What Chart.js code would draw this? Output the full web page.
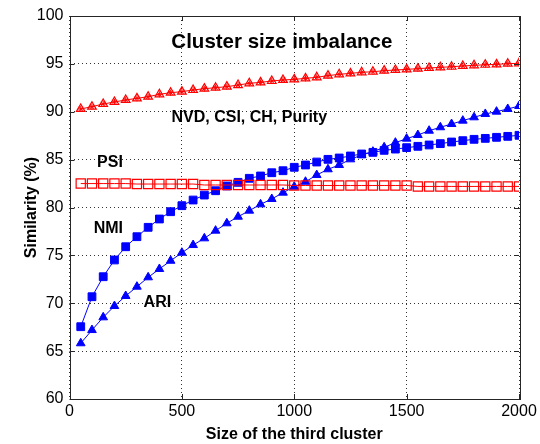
<!DOCTYPE html>
<html>
<head>
<meta charset="utf-8">
<script src="https://cdn.jsdelivr.net/npm/chart.js@4"></script>
<style>
html,body{margin:0;padding:0;background:#fff}
</style>
</head>
<body>
<canvas id="myChart" width="540" height="444"></canvas>
<script>
var sizes = [50,100,150,200,250,300,350,400,450,500,550,600,650,700,750,800,850,900,950,1000,
             1050,1100,1150,1200,1250,1300,1350,1400,1450,1500,1550,1600,1650,1700,1750,1800,1850,1900,1950,2000];

// NVD, CSI, CH, Purity (all the same curve)
var nvd = [90.29,90.53,90.81,91.02,91.23,91.40,91.57,91.82,91.99,92.10,92.27,92.41,92.51,92.62,92.79,92.97,93.07,93.21,93.32,93.38,
           93.49,93.60,93.77,93.91,94.01,94.12,94.18,94.29,94.36,94.43,94.50,94.57,94.64,94.70,94.78,94.85,94.91,94.95,95.02,95.06];
var psi = [82.5,82.5,82.5,82.5,82.5,82.45,82.45,82.45,82.45,82.45,82.45,82.35,82.35,82.35,82.35,82.35,82.35,82.35,82.35,82.3,
           82.3,82.3,82.3,82.3,82.3,82.3,82.3,82.3,82.3,82.3,82.2,82.2,82.2,82.2,82.2,82.2,82.2,82.2,82.2,82.2];
var nmi = [67.55,70.68,72.77,74.52,75.90,76.95,77.93,78.80,79.56,80.19,80.78,81.30,81.75,82.25,82.63,83.05,83.29,83.63,83.84,84.20,
           84.44,84.75,85.03,85.17,85.38,85.59,85.76,85.97,86.10,86.25,86.39,86.53,86.67,86.84,86.98,87.12,87.22,87.33,87.43,87.54];
var ari = [65.82,67.20,68.53,69.71,70.76,71.73,72.71,73.58,74.44,75.28,76.08,76.78,77.58,78.35,79.04,79.67,80.33,80.89,81.55,82.17,
           82.69,83.39,83.99,84.44,85.03,85.48,85.83,86.29,86.77,87.19,87.57,88.02,88.38,88.72,89.07,89.42,89.77,90.01,90.29,90.60];

var xTicks = [0,500,1000,1500,2000];
var yTicks = [60,65,70,75,80,85,90,95,100];

var FONT = '"Liberation Sans", Arial, sans-serif';

function pts(vals){
  return sizes.map(function(x, i){ return {x: x, y: vals[i]}; });
}

// text written inside the axes
var labels = [
  {text: 'Cluster size imbalance', x: 945, y: 97.3, size: 20.5},
  {text: 'NVD, CSI, CH, Purity', x: 800, y: 89.35, size: 16},
  {text: 'PSI', x: 180, y: 84.65, size: 16},
  {text: 'NMI', x: 173, y: 77.75, size: 16},
  {text: 'ARI', x: 391, y: 70.05, size: 16}
];

var boxPlugin = {
  id: 'box',
  afterDraw: function(chart){
    var c = chart.ctx, a = chart.chartArea;
    var xs = chart.scales.x, ys = chart.scales.y;
    c.save();
    c.strokeStyle = '#262626';
    c.lineWidth = 1;
    c.strokeRect(Math.round(a.left) + 0.5, Math.round(a.top) + 0.5,
                 Math.round(a.right - a.left), Math.round(a.bottom - a.top));
    c.beginPath();
    xTicks.forEach(function(t){
      var px = Math.round(xs.getPixelForValue(t)) + 0.5;
      c.moveTo(px, a.bottom); c.lineTo(px, a.bottom - 5);
      c.moveTo(px, a.top); c.lineTo(px, a.top + 5);
    });
    yTicks.forEach(function(t){
      var py = Math.round(ys.getPixelForValue(t)) + 0.5;
      c.moveTo(a.left, py); c.lineTo(a.left + 5, py);
      c.moveTo(a.right, py); c.lineTo(a.right - 5, py);
    });
    c.stroke();
    c.fillStyle = '#000';
    c.textAlign = 'center';
    c.textBaseline = 'middle';
    labels.forEach(function(l){
      c.font = 'bold ' + l.size + 'px ' + FONT;
      c.fillText(l.text, xs.getPixelForValue(l.x), ys.getPixelForValue(l.y));
    });
    c.restore();
  }
};

var ctx = document.getElementById('myChart').getContext('2d');
var chart = new Chart(ctx, {
  type: 'line',
  data: {
    datasets: [{
      label: 'NVD, CSI, CH, Purity',
      data: pts(nvd),
      borderColor: '#ff0000',
      borderWidth: 1,
      pointStyle: 'triangle',
      pointRadius: 5,
      pointBorderColor: '#ff0000',
      pointBackgroundColor: 'rgba(255,255,255,0)',
      pointBorderWidth: 1.2
    }, {
      label: 'NVD star',
      data: pts(nvd),
      showLine: false,
      pointStyle: 'star',
      pointRadius: 3,
      pointBorderColor: '#ff0000',
      pointBorderWidth: 1
    }, {
      label: 'PSI',
      data: pts(psi),
      borderColor: '#ff0000',
      borderWidth: 1,
      pointStyle: 'rect',
      pointRadius: 6.5,
      pointBorderColor: '#ff0000',
      pointBackgroundColor: 'rgba(255,255,255,0)',
      pointBorderWidth: 1.2
    }, {
      label: 'NMI',
      data: pts(nmi),
      borderColor: '#0000ff',
      borderWidth: 1,
      pointStyle: 'rect',
      pointRadius: 5.5,
      pointBorderColor: '#0000ff',
      pointBackgroundColor: '#0000ff',
      pointBorderWidth: 1
    }, {
      label: 'ARI',
      data: pts(ari),
      borderColor: '#0000ff',
      borderWidth: 1,
      pointStyle: 'triangle',
      pointRadius: 5,
      pointBorderColor: '#0000ff',
      pointBackgroundColor: '#0000ff',
      pointBorderWidth: 1
    }]
  },
  options: {
    responsive: false,
    animation: false,
    layout: { padding: { top: 16, right: 21, left: 0, bottom: 0 } },
    elements: { line: { tension: 0 } },
    plugins: { legend: { display: false }, tooltip: { enabled: false } },
    scales: {
      x: {
        type: 'linear',
        min: 0, max: 2000,
        afterBuildTicks: function(s){ s.ticks = xTicks.map(function(v){ return {value: v}; }); },
        afterFit: function(s){ s.height = 45; },
        border: { display: false, dash: [1, 3] },
        grid: { color: '#333', drawTicks: false },
        ticks: { color: '#000', padding: 3, font: { family: FONT, size: 16 }, maxRotation: 0,
                 callback: function(v){ return String(v); } },
        title: { display: true, text: 'Size of the third cluster', color: '#000',
                 padding: { top: 2, bottom: 0 }, font: { family: FONT, size: 16, weight: 'bold' } }
      },
      y: {
        min: 60, max: 100,
        afterBuildTicks: function(s){ s.ticks = yTicks.map(function(v){ return {value: v}; }); },
        afterFit: function(s){ s.width = 69.5; },
        border: { display: false, dash: [1, 3] },
        grid: { color: '#333', drawTicks: false },
        ticks: { color: '#000', padding: 6, font: { family: FONT, size: 16 },
                 callback: function(v){ return String(v); } },
        title: { display: true, text: 'Similarity (%)', color: '#000',
                 padding: { top: 22, bottom: 0 }, font: { family: FONT, size: 16, weight: 'bold' } }
      }
    }
  },
  plugins: [boxPlugin]
});
</script>
</body>
</html>
